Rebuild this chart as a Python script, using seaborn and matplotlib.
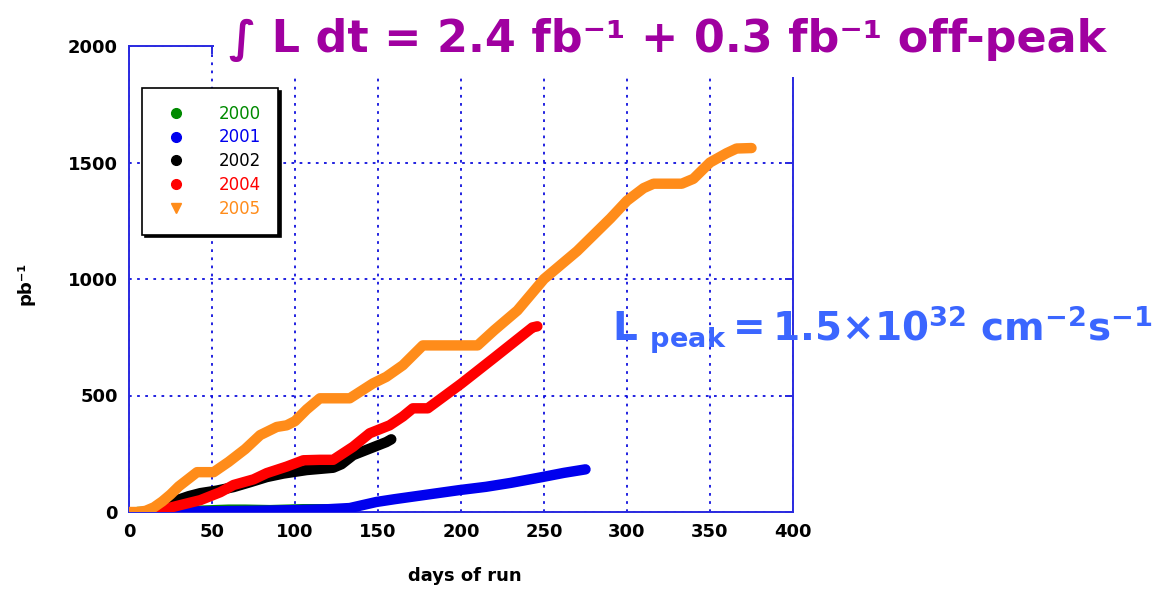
import numpy as np
import pandas as pd
import matplotlib
matplotlib.use("Agg")
import matplotlib.pyplot as plt
from matplotlib.lines import Line2D
import seaborn as sns

# ---- data ----
years = ["2000", "2001", "2002", "2004", "2005"]
colors = ["#008a00", "#0000ee", "#000000", "#ff0000", "#ff8c1a"]
markers = ["o", "o", "o", "o", "v"]

days_2000 = [5, 20, 40, 60, 70, 85, 105, 125]
pb_2000 = [0, 2, 5, 10, 10, 8, 12, 12]

days_2001 = [10, 30, 50, 73, 100, 120, 133, 141, 149, 160, 175, 199, 215, 230, 249, 262, 275]
pb_2001 = [0, 2, 3, 5, 8, 12, 17, 30, 43, 55, 70, 94, 108, 125, 150, 168, 183]

days_2002 = [15, 22, 29, 36, 43, 53, 63, 73, 83, 93, 107, 123, 128, 135, 145, 155, 158]
pb_2002 = [0, 25, 51, 68, 81, 92, 107, 128, 150, 165, 180, 190, 205, 244, 272, 300, 312]

days_2004 = [13, 20, 30, 43, 55, 63, 75, 83, 95, 105, 115, 123, 135, 145, 157, 165,
             171, 180, 200, 220, 243, 246]
pb_2004 = [0, 10, 28, 51, 85, 116, 140, 167, 195, 222, 224, 224, 280, 338, 372, 410,
           445, 445, 550, 662, 792, 797]

days_2005 = [0, 5, 10, 15, 20, 25, 30, 41, 51, 60, 70, 79, 89, 95, 100, 107, 115, 133,
             140, 147, 155, 165, 177, 190, 200, 210, 220, 234, 250, 260, 270, 280, 290,
             300, 310, 316, 333, 340, 350, 360, 366, 375]
pb_2005 = [0, 0, 5, 20, 45, 75, 110, 171, 171, 215, 270, 330, 365, 372, 390, 440, 488, 488,
           520, 552, 580, 630, 715, 715, 715, 715, 780, 865, 1000, 1060, 1120, 1190, 1260,
           1336, 1390, 1409, 1409, 1430, 1500, 1540, 1560, 1562]

x_ticks = [0, 50, 100, 150, 200, 250, 300, 350, 400]
y_ticks = [0, 500, 1000, 1500, 2000]

title_text = "∫ L dt = 2.4 fb⁻¹ + 0.3 fb⁻¹ off-peak"
xlabel = "days of run"
ylabel = "pb⁻¹"

all_days = [days_2000, days_2001, days_2002, days_2004, days_2005]
all_pb = [pb_2000, pb_2001, pb_2002, pb_2004, pb_2005]
df = pd.concat([pd.DataFrame({"day": d, "pb": p, "year": y})
                for d, p, y in zip(all_days, all_pb, years)], ignore_index=True)

# ---- plot ----
sns.set_style("white")
plt.rcParams["font.family"] = ["DejaVu Sans"]
plt.rcParams["mathtext.fontset"] = "dejavusans"

fig = plt.figure(figsize=(11.55, 5.92), dpi=100)
ax = fig.add_axes([129 / 1155, 1 - 512 / 592, (793 - 129) / 1155, (512 - 46) / 592])

spine_blue = "#2a2ae0"
for s in ax.spines.values():
    s.set_color(spine_blue)
    s.set_linewidth(1.4)

sns.lineplot(data=df, x="day", y="pb", hue="year", palette=dict(zip(years, colors)),
             linewidth=7.5, sort=False, legend=False, ax=ax, estimator=None,
             solid_capstyle="round", solid_joinstyle="round", zorder=3)

ax.set_xlim(0, 400)
ax.set_ylim(0, 2000)
ax.set_xticks(x_ticks)
ax.set_yticks(y_ticks)
ax.set_xticklabels([str(t) for t in x_ticks], fontsize=13, fontweight="bold", color="black")
ax.set_yticklabels([str(t) for t in y_ticks], fontsize=13, fontweight="bold", color="black")
ax.tick_params(direction="in", length=6, width=1.4, color=spine_blue,
               top=True, right=True, pad=8)
ax.grid(True, color="#1010dd", linestyle=(0, (1.5, 3)), linewidth=1.3)
ax.set_axisbelow(True)

ax.set_xlabel(xlabel, fontsize=13, fontweight="bold", color="black")
ax.xaxis.set_label_coords(0.505, -0.118)
ax.set_ylabel(ylabel, fontsize=13, fontweight="bold", color="black")
ax.yaxis.set_label_coords(-0.142, 0.49)

handles = [Line2D([], [], linestyle="none", marker=m, color=c, markersize=7)
           for m, c in zip(markers, colors)]
leg = ax.legend(handles, years, loc="upper left", bbox_to_anchor=(0.02, 0.91),
                fontsize=12, labelcolor=colors, frameon=True, fancybox=False,
                edgecolor="black", framealpha=1, borderpad=1.0, labelspacing=0.35,
                handletextpad=1.6, borderaxespad=0,
                shadow={"color": "black", "alpha": 1})
leg.get_frame().set_linewidth(1.2)

fig.text(668 / 1155, 1 - 40 / 592, title_text, fontsize=32, fontweight="bold",
         color="#a000a0", ha="center", va="center",
         bbox=dict(facecolor="white", edgecolor="none", pad=11))

fig.text(612 / 1155, 1 - 330 / 592,
         r"$\mathbf{L}\ _{\mathbf{peak}}\mathbf{=1.5{\times}10^{32}\ cm^{-2}s^{-1}}$",
         fontsize=28, color="#3b66ff", ha="left", va="center")

fig.savefig("out.png", dpi=100)
